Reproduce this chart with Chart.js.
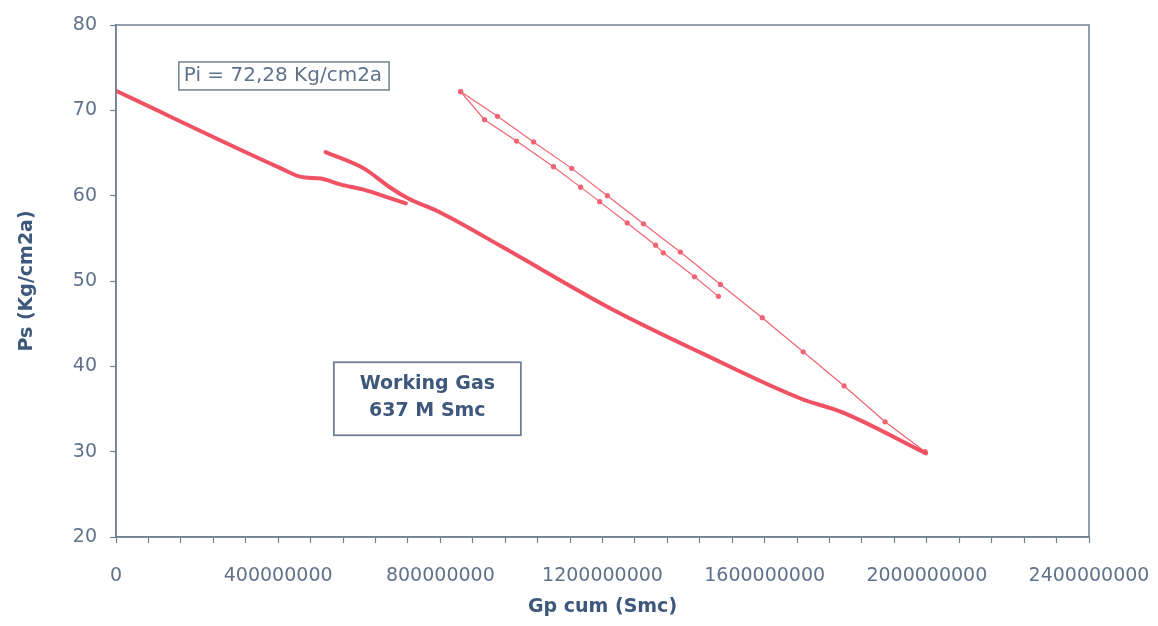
<!DOCTYPE html>
<html>
<head>
<meta charset="utf-8">
<script src="https://cdn.jsdelivr.net/npm/chart.js@4.4.1/dist/chart.umd.min.js"></script>
<style>
  html, body { margin: 0; padding: 0; background: #ffffff; }
  #wrap { width: 1158px; height: 626px; position: relative; }
</style>
</head>
<body>
<div id="wrap"><canvas id="chart" width="1158" height="626"></canvas></div>
<script>
// Gp cum in Smc, Ps in Kg/cm2a

// first withdrawal from the initial pressure
const firstGp = [0, 407e6, 456e6, 505e6, 555e6, 611e6, 670e6, 715e6];
const firstPs = [72.28, 63.2, 62.2, 62.0, 61.3, 60.7, 59.8, 59.1];

// main depletion trend
const mainGp = [517e6, 611e6, 678e6, 720e6, 801e6, 949e6, 1227e6, 1442e6, 1690e6, 1792e6, 1998e6];
const mainPs = [65.1, 63.2, 60.9, 59.7, 58.0, 54.1, 46.6, 41.6, 36.2, 34.6, 29.8];

// storage cycle, withdrawal branch
const upperGp = [850e6, 941e6, 1030e6, 1124e6, 1212e6, 1301e6, 1392e6, 1491e6, 1594e6, 1695e6, 1796e6, 1897e6, 1996e6];
const upperPs = [72.2, 69.3, 66.3, 63.2, 60.0, 56.7, 53.4, 49.6, 45.7, 41.7, 37.7, 33.5, 30.0];

// storage cycle, injection branch
const lowerGp = [850e6, 909e6, 988e6, 1079e6, 1146e6, 1193e6, 1261e6, 1331e6, 1350e6, 1427e6, 1486e6];
const lowerPs = [72.2, 68.9, 66.4, 63.4, 61.0, 59.3, 56.8, 54.2, 53.3, 50.5, 48.2];

// axis ranges and labelled ticks
const xMin = 0, xMax = 2400e6, xStep = 80e6, xLabelStep = 400e6;
const yMin = 20, yMax = 80, yStep = 10;

const initialPressureText = 'Pi = 72,28 Kg/cm2a';
const workingGasText = ['Working Gas', '637 M Smc'];

const toPoints = (xs, ys) => xs.map((x, i) => ({ x: x, y: ys[i] }));

const RED = 'rgb(240, 82, 100)';
const RED_THIN = 'rgb(242, 100, 116)';
const AXIS = 'rgb(112, 128, 148)';
const TICK_TEXT = 'rgb(96, 114, 138)';
const TITLE_TEXT = 'rgb(62, 88, 124)';
const FONT = '"DejaVu Sans", "Liberation Sans", sans-serif';

// frame around the plot area plus the two text boxes
const framePlugin = {
  id: 'frameAndNotes',
  afterDatasetsDraw(chart) {
    const { ctx, chartArea: a, scales: { x, y } } = chart;
    ctx.save();
    ctx.strokeStyle = AXIS;
    ctx.lineWidth = 1.5;
    ctx.strokeRect(a.left, a.top, a.right - a.left, a.bottom - a.top);

    // initial pressure note (anchored at its top-left corner)
    ctx.font = '20px ' + FONT;
    ctx.textBaseline = 'middle';
    ctx.textAlign = 'left';
    const px = x.getPixelForValue(155e6);
    const py = y.getPixelForValue(75.67);
    const tw = ctx.measureText(initialPressureText).width;
    ctx.lineWidth = 1.5;
    ctx.strokeRect(px, py, tw + 12, 28);
    ctx.fillStyle = TICK_TEXT;
    ctx.fillText(initialPressureText, px + 5, py + 14);

    // working gas note (anchored at its centre)
    const cx = x.getPixelForValue(768e6);
    const cy = y.getPixelForValue(36.2);
    const bw = 187, bh = 73;
    ctx.lineWidth = 1.8;
    ctx.strokeRect(cx - bw / 2, cy - bh / 2, bw, bh);
    ctx.font = 'bold 19px ' + FONT;
    ctx.textAlign = 'center';
    ctx.fillStyle = TITLE_TEXT;
    ctx.fillText(workingGasText[0], cx, cy - 15);
    ctx.fillText(workingGasText[1], cx, cy + 12);
    ctx.restore();
  }
};

new Chart(document.getElementById('chart'), {
  type: 'line',
  data: {
    datasets: [
      {
        data: toPoints(firstGp, firstPs),
        borderColor: RED, borderWidth: 4, pointRadius: 0,
        cubicInterpolationMode: 'monotone', borderCapStyle: 'round', borderJoinStyle: 'round'
      },
      {
        data: toPoints(mainGp, mainPs),
        borderColor: RED, borderWidth: 4, pointRadius: 0,
        cubicInterpolationMode: 'monotone', borderCapStyle: 'round', borderJoinStyle: 'round'
      },
      {
        data: toPoints(upperGp, upperPs),
        borderColor: RED_THIN, borderWidth: 1.2,
        pointRadius: 2.6, pointBackgroundColor: RED_THIN, pointBorderWidth: 0, tension: 0
      },
      {
        data: toPoints(lowerGp, lowerPs),
        borderColor: RED_THIN, borderWidth: 1.2,
        pointRadius: 2.6, pointBackgroundColor: RED_THIN, pointBorderWidth: 0, tension: 0
      }
    ]
  },
  options: {
    responsive: false,
    animation: false,
    layout: { padding: { left: 0, right: 69, top: 25, bottom: 0 } },
    plugins: { legend: { display: false }, tooltip: { enabled: false } },
    scales: {
      x: {
        type: 'linear',
        min: xMin, max: xMax,
        afterFit(scale) {
          scale.height = 89;
          scale.paddingLeft = 0;
          scale.paddingRight = 0;
        },
        border: { display: true, color: AXIS, width: 1.5 },
        grid: { drawOnChartArea: false, drawTicks: true, tickLength: 6, tickColor: AXIS, tickWidth: 1.2 },
        ticks: {
          stepSize: xStep,
          autoSkip: false,
          maxRotation: 0,
          padding: 22,
          color: TICK_TEXT,
          font: { family: FONT, size: 19 },
          callback: (v) => (v % xLabelStep === 0 ? String(v) : '')
        },
        title: {
          display: true, text: 'Gp cum (Smc)', color: TITLE_TEXT,
          font: { family: FONT, size: 19, weight: 'bold' },
          padding: { top: 0, bottom: 8 }
        }
      },
      y: {
        min: yMin, max: yMax,
        afterFit(scale) {
          scale.width = 116;
          scale.paddingTop = 0;
          scale.paddingBottom = 0;
        },
        border: { display: true, color: AXIS, width: 1.5 },
        grid: { drawOnChartArea: false, drawTicks: true, tickLength: 6, tickColor: AXIS, tickWidth: 1.2 },
        ticks: {
          stepSize: yStep,
          padding: 13,
          color: TICK_TEXT,
          font: { family: FONT, size: 19 }
        },
        title: {
          display: true, text: 'Ps (Kg/cm2a)', color: TITLE_TEXT,
          font: { family: FONT, size: 19, weight: 'bold' },
          padding: { top: 16, bottom: 0 }
        }
      }
    }
  },
  plugins: [framePlugin]
});
</script>
</body>
</html>
